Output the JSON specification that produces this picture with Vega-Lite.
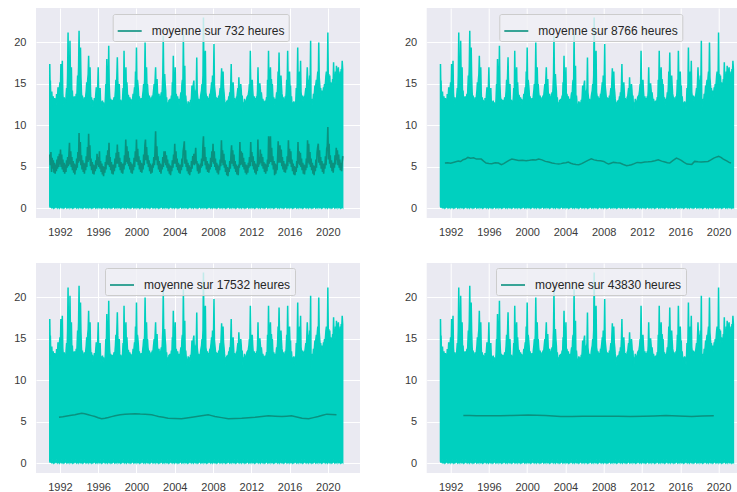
{
"$schema": "https://vega.github.io/schema/vega-lite/v6.json",
"background": "white",
"padding": {"left": 13, "top": 8, "right": 0, "bottom": 0},
"bounds": "flush",
"align": "each",
"columns": 2,
"spacing": {"row": 45, "column": 66.7},
"resolve": {"scale": {"color": "independent"}, "legend": {"color": "independent"}},
"config": {
  "view": {"fill": "#EAEAF2", "stroke": null},
  "axis": {"domain": false, "ticks": false, "grid": true, "gridColor": "#FFFFFF", "gridWidth": 1, "labelFont": "Liberation Sans", "labelFontSize": 11, "labelColor": "#3A3A3A"},
  "legend": {"labelFont": "Liberation Sans", "labelFontSize": 12, "labelColor": "#262626", "symbolType": "stroke", "symbolSize": 576, "symbolStrokeWidth": 1.6, "labelOffset": 9, "padding": 4, "fillColor": "rgba(240,240,245,0.8)", "strokeColor": "#CCCCCC", "cornerRadius": 2}
},
"datasets": {
"raw": [
{"t":1990.94,"h":17.4,"l":0.3},{"t":1990.97,"h":15.2,"l":0.1},
{"t":1991.0,"h":15.4,"l":0.4},{"t":1991.05,"h":13.2,"l":0.1},{"t":1991.1,"h":12.3,"l":0.3},{"t":1991.15,"h":14.1,"l":0.0},{"t":1991.2,"h":13.0,"l":0.5},{"t":1991.25,"h":12.6,"l":0.2},{"t":1991.3,"h":13.5,"l":0.1},{"t":1991.35,"h":12.2,"l":0.4},{"t":1991.4,"h":12.9,"l":0.2},{"t":1991.45,"h":13.3,"l":0.0},{"t":1991.5,"h":12.4,"l":0.3},{"t":1991.55,"h":13.2,"l":0.1},{"t":1991.6,"h":12.5,"l":0.5},{"t":1991.65,"h":13.8,"l":0.2},{"t":1991.7,"h":12.7,"l":0.1},{"t":1991.75,"h":13.4,"l":0.3},{"t":1991.8,"h":14.6,"l":0.0},{"t":1991.85,"h":12.8,"l":0.4},{"t":1991.9,"h":13.9,"l":0.2},{"t":1991.95,"h":14.5,"l":0.1},
{"t":1992.0,"h":15.2,"l":0.4},{"t":1992.05,"h":14.0,"l":0.1},{"t":1992.1,"h":17.4,"l":0.3},{"t":1992.15,"h":14.3,"l":0.0},{"t":1992.2,"h":13.9,"l":0.5},{"t":1992.25,"h":17.8,"l":0.2},{"t":1992.3,"h":13.9,"l":0.1},{"t":1992.35,"h":13.0,"l":0.4},{"t":1992.4,"h":12.5,"l":0.2},{"t":1992.45,"h":13.4,"l":0.0},{"t":1992.5,"h":12.8,"l":0.3},{"t":1992.55,"h":13.2,"l":0.1},{"t":1992.6,"h":12.6,"l":0.5},{"t":1992.65,"h":13.7,"l":0.2},{"t":1992.7,"h":14.5,"l":0.1},{"t":1992.75,"h":13.8,"l":0.3},{"t":1992.8,"h":16.0,"l":0.0},{"t":1992.85,"h":21.2,"l":0.4},{"t":1992.9,"h":15.0,"l":0.2},{"t":1992.95,"h":16.5,"l":0.1},
{"t":1993.0,"h":15.5,"l":0.4},{"t":1993.05,"h":20.2,"l":0.1},{"t":1993.1,"h":16.0,"l":0.3},{"t":1993.15,"h":13.8,"l":0.0},{"t":1993.2,"h":17.0,"l":0.5},{"t":1993.25,"h":13.5,"l":0.2},{"t":1993.3,"h":14.2,"l":0.1},{"t":1993.35,"h":12.8,"l":0.4},{"t":1993.4,"h":13.3,"l":0.2},{"t":1993.45,"h":12.9,"l":0.0},{"t":1993.5,"h":13.5,"l":0.3},{"t":1993.55,"h":12.6,"l":0.1},{"t":1993.6,"h":13.5,"l":0.5},{"t":1993.65,"h":12.9,"l":0.2},{"t":1993.7,"h":13.8,"l":0.1},{"t":1993.75,"h":12.9,"l":0.3},{"t":1993.8,"h":14.5,"l":0.0},{"t":1993.85,"h":16.0,"l":0.4},{"t":1993.9,"h":15.2,"l":0.2},{"t":1993.95,"h":17.1,"l":0.1},
{"t":1994.0,"h":21.4,"l":0.4},{"t":1994.05,"h":16.5,"l":0.1},{"t":1994.1,"h":15.1,"l":0.3},{"t":1994.15,"h":19.4,"l":0.0},{"t":1994.2,"h":15.8,"l":0.5},{"t":1994.25,"h":14.0,"l":0.2},{"t":1994.3,"h":13.0,"l":0.1},{"t":1994.35,"h":13.6,"l":0.4},{"t":1994.4,"h":12.6,"l":0.2},{"t":1994.45,"h":13.2,"l":0.0},{"t":1994.5,"h":12.6,"l":0.3},{"t":1994.55,"h":13.4,"l":0.1},{"t":1994.6,"h":13.1,"l":0.5},{"t":1994.65,"h":12.8,"l":0.2},{"t":1994.7,"h":13.6,"l":0.1},{"t":1994.75,"h":14.2,"l":0.3},{"t":1994.8,"h":15.2,"l":0.0},{"t":1994.85,"h":14.1,"l":0.4},{"t":1994.9,"h":15.5,"l":0.2},{"t":1994.95,"h":16.2,"l":0.1},
{"t":1995.0,"h":18.4,"l":0.4},{"t":1995.05,"h":15.5,"l":0.1},{"t":1995.1,"h":14.3,"l":0.3},{"t":1995.15,"h":17.0,"l":0.0},{"t":1995.2,"h":14.0,"l":0.5},{"t":1995.25,"h":12.5,"l":0.2},{"t":1995.3,"h":13.4,"l":0.1},{"t":1995.35,"h":12.8,"l":0.4},{"t":1995.4,"h":13.1,"l":0.2},{"t":1995.45,"h":12.2,"l":0.0},{"t":1995.5,"h":12.9,"l":0.3},{"t":1995.55,"h":12.4,"l":0.1},{"t":1995.6,"h":13.3,"l":0.5},{"t":1995.65,"h":12.6,"l":0.2},{"t":1995.7,"h":13.0,"l":0.1},{"t":1995.75,"h":13.8,"l":0.3},{"t":1995.8,"h":14.6,"l":0.0},{"t":1995.85,"h":13.5,"l":0.4},{"t":1995.9,"h":13.2,"l":0.2},{"t":1995.95,"h":14.8,"l":0.1},
{"t":1996.0,"h":17.0,"l":0.4},{"t":1996.05,"h":13.8,"l":0.1},{"t":1996.1,"h":14.5,"l":0.3},{"t":1996.15,"h":13.2,"l":0.0},{"t":1996.2,"h":14.5,"l":0.5},{"t":1996.25,"h":12.8,"l":0.2},{"t":1996.3,"h":12.0,"l":0.1},{"t":1996.35,"h":12.9,"l":0.4},{"t":1996.4,"h":12.4,"l":0.2},{"t":1996.45,"h":13.0,"l":0.0},{"t":1996.5,"h":12.4,"l":0.3},{"t":1996.55,"h":12.8,"l":0.1},{"t":1996.6,"h":12.2,"l":0.5},{"t":1996.65,"h":12.6,"l":0.2},{"t":1996.7,"h":12.1,"l":0.1},{"t":1996.75,"h":13.3,"l":0.3},{"t":1996.8,"h":15.0,"l":0.0},{"t":1996.85,"h":14.2,"l":0.4},{"t":1996.9,"h":18.0,"l":0.2},{"t":1996.95,"h":15.2,"l":0.1},
{"t":1997.0,"h":16.0,"l":0.4},{"t":1997.05,"h":14.5,"l":0.1},{"t":1997.1,"h":19.6,"l":0.3},{"t":1997.15,"h":15.0,"l":0.0},{"t":1997.2,"h":13.6,"l":0.5},{"t":1997.25,"h":12.9,"l":0.2},{"t":1997.3,"h":13.2,"l":0.1},{"t":1997.35,"h":12.7,"l":0.4},{"t":1997.4,"h":12.5,"l":0.2},{"t":1997.45,"h":13.1,"l":0.0},{"t":1997.5,"h":12.6,"l":0.3},{"t":1997.55,"h":13.0,"l":0.1},{"t":1997.6,"h":12.8,"l":0.5},{"t":1997.65,"h":13.4,"l":0.2},{"t":1997.7,"h":13.0,"l":0.1},{"t":1997.75,"h":13.4,"l":0.3},{"t":1997.8,"h":14.2,"l":0.0},{"t":1997.85,"h":15.5,"l":0.4},{"t":1997.9,"h":14.3,"l":0.2},{"t":1997.95,"h":16.0,"l":0.1},
{"t":1998.0,"h":18.2,"l":0.4},{"t":1998.05,"h":15.4,"l":0.1},{"t":1998.1,"h":14.2,"l":0.3},{"t":1998.15,"h":14.8,"l":0.0},{"t":1998.2,"h":15.0,"l":0.5},{"t":1998.25,"h":13.2,"l":0.2},{"t":1998.3,"h":12.7,"l":0.1},{"t":1998.35,"h":13.1,"l":0.4},{"t":1998.4,"h":12.4,"l":0.2},{"t":1998.45,"h":12.9,"l":0.0},{"t":1998.5,"h":12.6,"l":0.3},{"t":1998.55,"h":13.3,"l":0.1},{"t":1998.6,"h":14.5,"l":0.5},{"t":1998.65,"h":13.2,"l":0.2},{"t":1998.7,"h":19.0,"l":0.1},{"t":1998.75,"h":15.0,"l":0.3},{"t":1998.8,"h":14.4,"l":0.0},{"t":1998.85,"h":15.8,"l":0.4},{"t":1998.9,"h":17.0,"l":0.2},{"t":1998.95,"h":13.8,"l":0.1},
{"t":1999.0,"h":15.2,"l":0.4},{"t":1999.05,"h":14.0,"l":0.1},{"t":1999.1,"h":13.0,"l":0.3},{"t":1999.15,"h":13.7,"l":0.0},{"t":1999.2,"h":13.3,"l":0.5},{"t":1999.25,"h":12.8,"l":0.2},{"t":1999.3,"h":13.4,"l":0.1},{"t":1999.35,"h":12.9,"l":0.4},{"t":1999.4,"h":13.2,"l":0.2},{"t":1999.45,"h":12.5,"l":0.0},{"t":1999.5,"h":13.1,"l":0.3},{"t":1999.55,"h":12.8,"l":0.1},{"t":1999.6,"h":13.2,"l":0.5},{"t":1999.65,"h":13.8,"l":0.2},{"t":1999.7,"h":13.0,"l":0.1},{"t":1999.75,"h":14.0,"l":0.3},{"t":1999.8,"h":14.6,"l":0.0},{"t":1999.85,"h":14.1,"l":0.4},{"t":1999.9,"h":16.5,"l":0.2},{"t":1999.95,"h":15.0,"l":0.1},
{"t":2000.0,"h":19.4,"l":0.4},{"t":2000.05,"h":14.8,"l":0.1},{"t":2000.1,"h":15.5,"l":0.3},{"t":2000.15,"h":15.0,"l":0.0},{"t":2000.2,"h":14.2,"l":0.5},{"t":2000.25,"h":13.0,"l":0.2},{"t":2000.3,"h":13.5,"l":0.1},{"t":2000.35,"h":12.9,"l":0.4},{"t":2000.4,"h":13.2,"l":0.2},{"t":2000.45,"h":12.6,"l":0.0},{"t":2000.5,"h":13.3,"l":0.3},{"t":2000.55,"h":12.8,"l":0.1},{"t":2000.6,"h":13.0,"l":0.5},{"t":2000.65,"h":13.7,"l":0.2},{"t":2000.7,"h":14.2,"l":0.1},{"t":2000.75,"h":15.0,"l":0.3},{"t":2000.8,"h":14.3,"l":0.0},{"t":2000.85,"h":15.5,"l":0.4},{"t":2000.9,"h":20.0,"l":0.2},{"t":2000.95,"h":16.0,"l":0.1},
{"t":2001.0,"h":15.4,"l":0.4},{"t":2001.05,"h":17.0,"l":0.1},{"t":2001.1,"h":14.6,"l":0.3},{"t":2001.15,"h":15.0,"l":0.0},{"t":2001.2,"h":14.0,"l":0.5},{"t":2001.25,"h":13.5,"l":0.2},{"t":2001.3,"h":13.1,"l":0.1},{"t":2001.35,"h":13.6,"l":0.4},{"t":2001.4,"h":12.8,"l":0.2},{"t":2001.45,"h":13.2,"l":0.0},{"t":2001.5,"h":12.9,"l":0.3},{"t":2001.55,"h":13.4,"l":0.1},{"t":2001.6,"h":13.0,"l":0.5},{"t":2001.65,"h":13.6,"l":0.2},{"t":2001.7,"h":13.2,"l":0.1},{"t":2001.75,"h":13.8,"l":0.3},{"t":2001.8,"h":14.4,"l":0.0},{"t":2001.85,"h":15.0,"l":0.4},{"t":2001.9,"h":14.2,"l":0.2},{"t":2001.95,"h":15.6,"l":0.1},
{"t":2002.0,"h":17.0,"l":0.4},{"t":2002.05,"h":14.5,"l":0.1},{"t":2002.1,"h":15.2,"l":0.3},{"t":2002.15,"h":15.6,"l":0.0},{"t":2002.2,"h":14.0,"l":0.5},{"t":2002.25,"h":13.6,"l":0.2},{"t":2002.3,"h":13.2,"l":0.1},{"t":2002.35,"h":13.8,"l":0.4},{"t":2002.4,"h":13.0,"l":0.2},{"t":2002.45,"h":13.5,"l":0.0},{"t":2002.5,"h":13.0,"l":0.3},{"t":2002.55,"h":13.6,"l":0.1},{"t":2002.6,"h":14.0,"l":0.5},{"t":2002.65,"h":13.4,"l":0.2},{"t":2002.7,"h":14.5,"l":0.1},{"t":2002.75,"h":16.0,"l":0.3},{"t":2002.8,"h":20.8,"l":0.0},{"t":2002.85,"h":15.8,"l":0.4},{"t":2002.9,"h":14.6,"l":0.2},{"t":2002.95,"h":16.2,"l":0.1},
{"t":2003.0,"h":15.0,"l":0.4},{"t":2003.05,"h":14.2,"l":0.1},{"t":2003.1,"h":12.8,"l":0.3},{"t":2003.15,"h":13.4,"l":0.0},{"t":2003.2,"h":12.5,"l":0.5},{"t":2003.25,"h":11.9,"l":0.2},{"t":2003.3,"h":12.8,"l":0.1},{"t":2003.35,"h":12.5,"l":0.4},{"t":2003.4,"h":13.1,"l":0.2},{"t":2003.45,"h":12.6,"l":0.0},{"t":2003.5,"h":13.2,"l":0.3},{"t":2003.55,"h":12.8,"l":0.1},{"t":2003.6,"h":13.0,"l":0.5},{"t":2003.65,"h":13.6,"l":0.2},{"t":2003.7,"h":13.2,"l":0.1},{"t":2003.75,"h":15.2,"l":0.3},{"t":2003.8,"h":14.4,"l":0.0},{"t":2003.85,"h":18.4,"l":0.4},{"t":2003.9,"h":15.0,"l":0.2},{"t":2003.95,"h":15.5,"l":0.1},
{"t":2004.0,"h":14.6,"l":0.4},{"t":2004.05,"h":17.0,"l":0.1},{"t":2004.1,"h":12.8,"l":0.3},{"t":2004.15,"h":13.8,"l":0.0},{"t":2004.2,"h":13.4,"l":0.5},{"t":2004.25,"h":13.0,"l":0.2},{"t":2004.3,"h":13.5,"l":0.1},{"t":2004.35,"h":12.8,"l":0.4},{"t":2004.4,"h":13.2,"l":0.2},{"t":2004.45,"h":12.5,"l":0.0},{"t":2004.5,"h":13.2,"l":0.3},{"t":2004.55,"h":12.9,"l":0.1},{"t":2004.6,"h":13.6,"l":0.5},{"t":2004.65,"h":14.0,"l":0.2},{"t":2004.7,"h":13.5,"l":0.1},{"t":2004.75,"h":15.0,"l":0.3},{"t":2004.8,"h":15.5,"l":0.0},{"t":2004.85,"h":14.6,"l":0.4},{"t":2004.9,"h":21.0,"l":0.2},{"t":2004.95,"h":16.0,"l":0.1},
{"t":2005.0,"h":15.2,"l":0.4},{"t":2005.05,"h":17.2,"l":0.1},{"t":2005.1,"h":12.5,"l":0.3},{"t":2005.15,"h":13.6,"l":0.0},{"t":2005.2,"h":12.8,"l":0.5},{"t":2005.25,"h":11.9,"l":0.2},{"t":2005.3,"h":12.6,"l":0.1},{"t":2005.35,"h":12.2,"l":0.4},{"t":2005.4,"h":12.9,"l":0.2},{"t":2005.45,"h":12.3,"l":0.0},{"t":2005.5,"h":12.2,"l":0.3},{"t":2005.55,"h":12.8,"l":0.1},{"t":2005.6,"h":12.4,"l":0.5},{"t":2005.65,"h":13.1,"l":0.2},{"t":2005.7,"h":12.7,"l":0.1},{"t":2005.75,"h":13.5,"l":0.3},{"t":2005.8,"h":14.8,"l":0.0},{"t":2005.85,"h":14.0,"l":0.4},{"t":2005.9,"h":14.5,"l":0.2},{"t":2005.95,"h":15.0,"l":0.1},
{"t":2006.0,"h":15.4,"l":0.4},{"t":2006.05,"h":13.5,"l":0.1},{"t":2006.1,"h":14.2,"l":0.3},{"t":2006.15,"h":13.5,"l":0.0},{"t":2006.2,"h":14.0,"l":0.5},{"t":2006.25,"h":14.5,"l":0.2},{"t":2006.3,"h":18.2,"l":0.1},{"t":2006.35,"h":14.0,"l":0.4},{"t":2006.4,"h":13.4,"l":0.2},{"t":2006.45,"h":12.9,"l":0.0},{"t":2006.5,"h":13.2,"l":0.3},{"t":2006.55,"h":12.7,"l":0.1},{"t":2006.6,"h":13.1,"l":0.5},{"t":2006.65,"h":12.8,"l":0.2},{"t":2006.7,"h":13.5,"l":0.1},{"t":2006.75,"h":13.9,"l":0.3},{"t":2006.8,"h":14.2,"l":0.0},{"t":2006.85,"h":15.0,"l":0.4},{"t":2006.9,"h":14.6,"l":0.2},{"t":2006.95,"h":16.0,"l":0.1},
{"t":2007.0,"h":23.0,"l":0.4},{"t":2007.05,"h":16.5,"l":0.1},{"t":2007.1,"h":15.6,"l":0.3},{"t":2007.15,"h":18.0,"l":0.0},{"t":2007.2,"h":19.0,"l":0.5},{"t":2007.25,"h":14.0,"l":0.2},{"t":2007.3,"h":13.6,"l":0.1},{"t":2007.35,"h":13.2,"l":0.4},{"t":2007.4,"h":13.5,"l":0.2},{"t":2007.45,"h":12.9,"l":0.0},{"t":2007.5,"h":13.3,"l":0.3},{"t":2007.55,"h":12.8,"l":0.1},{"t":2007.6,"h":13.2,"l":0.5},{"t":2007.65,"h":13.6,"l":0.2},{"t":2007.7,"h":13.5,"l":0.1},{"t":2007.75,"h":14.0,"l":0.3},{"t":2007.8,"h":14.5,"l":0.0},{"t":2007.85,"h":15.2,"l":0.4},{"t":2007.9,"h":14.6,"l":0.2},{"t":2007.95,"h":16.0,"l":0.1},
{"t":2008.0,"h":15.2,"l":0.4},{"t":2008.05,"h":15.6,"l":0.1},{"t":2008.1,"h":19.8,"l":0.3},{"t":2008.15,"h":14.8,"l":0.0},{"t":2008.2,"h":14.2,"l":0.5},{"t":2008.25,"h":13.6,"l":0.2},{"t":2008.3,"h":13.0,"l":0.1},{"t":2008.35,"h":13.4,"l":0.4},{"t":2008.4,"h":12.8,"l":0.2},{"t":2008.45,"h":13.3,"l":0.0},{"t":2008.5,"h":12.8,"l":0.3},{"t":2008.55,"h":13.2,"l":0.1},{"t":2008.6,"h":13.6,"l":0.5},{"t":2008.65,"h":13.2,"l":0.2},{"t":2008.7,"h":14.0,"l":0.1},{"t":2008.75,"h":14.5,"l":0.3},{"t":2008.8,"h":13.9,"l":0.0},{"t":2008.85,"h":15.4,"l":0.4},{"t":2008.9,"h":16.9,"l":0.2},{"t":2008.95,"h":14.5,"l":0.1},
{"t":2009.0,"h":15.0,"l":0.4},{"t":2009.05,"h":16.5,"l":0.1},{"t":2009.1,"h":14.6,"l":0.3},{"t":2009.15,"h":14.0,"l":0.0},{"t":2009.2,"h":13.2,"l":0.5},{"t":2009.25,"h":12.6,"l":0.2},{"t":2009.3,"h":11.9,"l":0.1},{"t":2009.35,"h":12.8,"l":0.4},{"t":2009.4,"h":12.5,"l":0.2},{"t":2009.45,"h":13.0,"l":0.0},{"t":2009.5,"h":12.6,"l":0.3},{"t":2009.55,"h":13.0,"l":0.1},{"t":2009.6,"h":13.0,"l":0.5},{"t":2009.65,"h":13.5,"l":0.2},{"t":2009.7,"h":13.2,"l":0.1},{"t":2009.75,"h":14.0,"l":0.3},{"t":2009.8,"h":13.6,"l":0.0},{"t":2009.85,"h":15.0,"l":0.4},{"t":2009.9,"h":17.4,"l":0.2},{"t":2009.95,"h":14.0,"l":0.1},
{"t":2010.0,"h":14.8,"l":0.4},{"t":2010.05,"h":14.2,"l":0.1},{"t":2010.1,"h":15.2,"l":0.3},{"t":2010.15,"h":14.0,"l":0.0},{"t":2010.2,"h":12.8,"l":0.5},{"t":2010.25,"h":13.3,"l":0.2},{"t":2010.3,"h":12.6,"l":0.1},{"t":2010.35,"h":13.0,"l":0.4},{"t":2010.4,"h":12.9,"l":0.2},{"t":2010.45,"h":13.4,"l":0.0},{"t":2010.5,"h":13.4,"l":0.3},{"t":2010.55,"h":14.0,"l":0.1},{"t":2010.6,"h":14.5,"l":0.5},{"t":2010.65,"h":13.8,"l":0.2},{"t":2010.7,"h":15.8,"l":0.1},{"t":2010.75,"h":14.2,"l":0.3},{"t":2010.8,"h":14.6,"l":0.0},{"t":2010.85,"h":13.8,"l":0.4},{"t":2010.9,"h":15.0,"l":0.2},{"t":2010.95,"h":14.2,"l":0.1},
{"t":2011.0,"h":13.0,"l":0.4},{"t":2011.05,"h":13.6,"l":0.1},{"t":2011.1,"h":12.4,"l":0.3},{"t":2011.15,"h":11.5,"l":0.0},{"t":2011.2,"h":12.8,"l":0.5},{"t":2011.25,"h":12.5,"l":0.2},{"t":2011.3,"h":13.2,"l":0.1},{"t":2011.35,"h":12.7,"l":0.4},{"t":2011.4,"h":13.0,"l":0.2},{"t":2011.45,"h":12.6,"l":0.0},{"t":2011.5,"h":13.0,"l":0.3},{"t":2011.55,"h":13.4,"l":0.1},{"t":2011.6,"h":13.5,"l":0.5},{"t":2011.65,"h":13.0,"l":0.2},{"t":2011.7,"h":13.8,"l":0.1},{"t":2011.75,"h":14.2,"l":0.3},{"t":2011.8,"h":15.0,"l":0.0},{"t":2011.85,"h":14.5,"l":0.4},{"t":2011.9,"h":19.0,"l":0.2},{"t":2011.95,"h":14.8,"l":0.1},
{"t":2012.0,"h":14.6,"l":0.4},{"t":2012.05,"h":15.2,"l":0.1},{"t":2012.1,"h":15.5,"l":0.3},{"t":2012.15,"h":14.2,"l":0.0},{"t":2012.2,"h":13.4,"l":0.5},{"t":2012.25,"h":13.0,"l":0.2},{"t":2012.3,"h":13.5,"l":0.1},{"t":2012.35,"h":12.8,"l":0.4},{"t":2012.4,"h":12.8,"l":0.2},{"t":2012.45,"h":13.3,"l":0.0},{"t":2012.5,"h":13.0,"l":0.3},{"t":2012.55,"h":13.5,"l":0.1},{"t":2012.6,"h":13.2,"l":0.5},{"t":2012.65,"h":14.2,"l":0.2},{"t":2012.7,"h":17.0,"l":0.1},{"t":2012.75,"h":14.2,"l":0.3},{"t":2012.8,"h":14.6,"l":0.0},{"t":2012.85,"h":15.0,"l":0.4},{"t":2012.9,"h":15.0,"l":0.2},{"t":2012.95,"h":14.3,"l":0.1},
{"t":2013.0,"h":13.2,"l":0.4},{"t":2013.05,"h":14.0,"l":0.1},{"t":2013.1,"h":13.4,"l":0.3},{"t":2013.15,"h":12.7,"l":0.0},{"t":2013.2,"h":13.2,"l":0.5},{"t":2013.25,"h":12.9,"l":0.2},{"t":2013.3,"h":12.3,"l":0.1},{"t":2013.35,"h":12.9,"l":0.4},{"t":2013.4,"h":12.6,"l":0.2},{"t":2013.45,"h":13.0,"l":0.0},{"t":2013.5,"h":12.7,"l":0.3},{"t":2013.55,"h":13.0,"l":0.1},{"t":2013.6,"h":13.4,"l":0.5},{"t":2013.65,"h":13.0,"l":0.2},{"t":2013.7,"h":15.5,"l":0.1},{"t":2013.75,"h":14.2,"l":0.3},{"t":2013.8,"h":19.0,"l":0.0},{"t":2013.85,"h":14.5,"l":0.4},{"t":2013.9,"h":15.2,"l":0.2},{"t":2013.95,"h":16.0,"l":0.1},
{"t":2014.0,"h":17.0,"l":0.4},{"t":2014.05,"h":14.5,"l":0.1},{"t":2014.1,"h":15.6,"l":0.3},{"t":2014.15,"h":14.6,"l":0.0},{"t":2014.2,"h":15.0,"l":0.5},{"t":2014.25,"h":13.6,"l":0.2},{"t":2014.3,"h":13.0,"l":0.1},{"t":2014.35,"h":13.4,"l":0.4},{"t":2014.4,"h":12.8,"l":0.2},{"t":2014.45,"h":12.5,"l":0.0},{"t":2014.5,"h":13.2,"l":0.3},{"t":2014.55,"h":12.8,"l":0.1},{"t":2014.6,"h":13.4,"l":0.5},{"t":2014.65,"h":14.0,"l":0.2},{"t":2014.7,"h":13.6,"l":0.1},{"t":2014.75,"h":14.6,"l":0.3},{"t":2014.8,"h":16.5,"l":0.0},{"t":2014.85,"h":15.2,"l":0.4},{"t":2014.9,"h":18.8,"l":0.2},{"t":2014.95,"h":15.5,"l":0.1},
{"t":2015.0,"h":15.0,"l":0.4},{"t":2015.05,"h":14.6,"l":0.1},{"t":2015.1,"h":16.0,"l":0.3},{"t":2015.15,"h":14.8,"l":0.0},{"t":2015.2,"h":13.8,"l":0.5},{"t":2015.25,"h":13.5,"l":0.2},{"t":2015.3,"h":13.0,"l":0.1},{"t":2015.35,"h":13.4,"l":0.4},{"t":2015.4,"h":12.8,"l":0.2},{"t":2015.45,"h":13.2,"l":0.0},{"t":2015.5,"h":12.8,"l":0.3},{"t":2015.55,"h":13.5,"l":0.1},{"t":2015.6,"h":13.2,"l":0.5},{"t":2015.65,"h":14.0,"l":0.2},{"t":2015.7,"h":15.5,"l":0.1},{"t":2015.75,"h":14.6,"l":0.3},{"t":2015.8,"h":19.0,"l":0.0},{"t":2015.85,"h":15.5,"l":0.4},{"t":2015.9,"h":14.6,"l":0.2},{"t":2015.95,"h":15.4,"l":0.1},
{"t":2016.0,"h":16.5,"l":0.4},{"t":2016.05,"h":14.4,"l":0.1},{"t":2016.1,"h":14.8,"l":0.3},{"t":2016.15,"h":12.8,"l":0.0},{"t":2016.2,"h":13.5,"l":0.5},{"t":2016.25,"h":12.6,"l":0.2},{"t":2016.3,"h":12.0,"l":0.1},{"t":2016.35,"h":12.8,"l":0.4},{"t":2016.4,"h":12.4,"l":0.2},{"t":2016.45,"h":12.9,"l":0.0},{"t":2016.5,"h":12.4,"l":0.3},{"t":2016.55,"h":12.8,"l":0.1},{"t":2016.6,"h":11.9,"l":0.5},{"t":2016.65,"h":12.9,"l":0.2},{"t":2016.7,"h":14.5,"l":0.1},{"t":2016.75,"h":13.6,"l":0.3},{"t":2016.8,"h":15.0,"l":0.0},{"t":2016.85,"h":19.4,"l":0.4},{"t":2016.9,"h":15.0,"l":0.2},{"t":2016.95,"h":14.6,"l":0.1},
{"t":2017.0,"h":15.6,"l":0.4},{"t":2017.05,"h":16.5,"l":0.1},{"t":2017.1,"h":14.8,"l":0.3},{"t":2017.15,"h":17.8,"l":0.0},{"t":2017.2,"h":14.0,"l":0.5},{"t":2017.25,"h":13.5,"l":0.2},{"t":2017.3,"h":13.2,"l":0.1},{"t":2017.35,"h":13.6,"l":0.4},{"t":2017.4,"h":13.0,"l":0.2},{"t":2017.45,"h":13.4,"l":0.0},{"t":2017.5,"h":13.0,"l":0.3},{"t":2017.55,"h":13.5,"l":0.1},{"t":2017.6,"h":13.5,"l":0.5},{"t":2017.65,"h":14.0,"l":0.2},{"t":2017.7,"h":14.5,"l":0.1},{"t":2017.75,"h":14.0,"l":0.3},{"t":2017.8,"h":15.2,"l":0.0},{"t":2017.85,"h":17.0,"l":0.4},{"t":2017.9,"h":15.4,"l":0.2},{"t":2017.95,"h":15.0,"l":0.1},
{"t":2018.0,"h":15.5,"l":0.4},{"t":2018.05,"h":14.8,"l":0.1},{"t":2018.1,"h":16.0,"l":0.3},{"t":2018.15,"h":15.2,"l":0.0},{"t":2018.2,"h":20.2,"l":0.5},{"t":2018.25,"h":11.5,"l":0.2},{"t":2018.3,"h":13.0,"l":0.1},{"t":2018.35,"h":12.5,"l":0.4},{"t":2018.4,"h":13.2,"l":0.2},{"t":2018.45,"h":13.0,"l":0.0},{"t":2018.5,"h":13.8,"l":0.3},{"t":2018.55,"h":13.5,"l":0.1},{"t":2018.6,"h":14.0,"l":0.5},{"t":2018.65,"h":14.8,"l":0.2},{"t":2018.7,"h":14.5,"l":0.1},{"t":2018.75,"h":15.0,"l":0.3},{"t":2018.8,"h":15.5,"l":0.0},{"t":2018.85,"h":14.8,"l":0.4},{"t":2018.9,"h":15.8,"l":0.2},{"t":2018.95,"h":16.5,"l":0.1},
{"t":2019.0,"h":15.2,"l":0.4},{"t":2019.05,"h":20.0,"l":0.1},{"t":2019.1,"h":15.8,"l":0.3},{"t":2019.15,"h":15.0,"l":0.0},{"t":2019.2,"h":14.2,"l":0.5},{"t":2019.25,"h":14.5,"l":0.2},{"t":2019.3,"h":13.8,"l":0.1},{"t":2019.35,"h":14.2,"l":0.4},{"t":2019.4,"h":13.2,"l":0.2},{"t":2019.45,"h":13.8,"l":0.0},{"t":2019.5,"h":14.0,"l":0.3},{"t":2019.55,"h":14.6,"l":0.1},{"t":2019.6,"h":14.2,"l":0.5},{"t":2019.65,"h":15.0,"l":0.2},{"t":2019.7,"h":14.5,"l":0.1},{"t":2019.75,"h":15.2,"l":0.3},{"t":2019.8,"h":16.0,"l":0.0},{"t":2019.85,"h":16.5,"l":0.4},{"t":2019.9,"h":15.0,"l":0.2},{"t":2019.95,"h":15.5,"l":0.1},
{"t":2020.0,"h":21.2,"l":0.4},{"t":2020.05,"h":15.5,"l":0.1},{"t":2020.1,"h":16.2,"l":0.3},{"t":2020.15,"h":15.0,"l":0.0},{"t":2020.2,"h":16.0,"l":0.5},{"t":2020.25,"h":14.5,"l":0.2},{"t":2020.3,"h":15.2,"l":0.1},{"t":2020.35,"h":14.5,"l":0.4},{"t":2020.4,"h":15.0,"l":0.2},{"t":2020.45,"h":14.8,"l":0.0},{"t":2020.5,"h":15.6,"l":0.3},{"t":2020.55,"h":15.0,"l":0.1},{"t":2020.6,"h":17.6,"l":0.5},{"t":2020.65,"h":15.2,"l":0.2},{"t":2020.7,"h":15.8,"l":0.1},{"t":2020.75,"h":15.0,"l":0.3},{"t":2020.8,"h":16.5,"l":0.0},{"t":2020.85,"h":15.6,"l":0.4},{"t":2020.9,"h":17.2,"l":0.2},{"t":2020.95,"h":16.0,"l":0.1},
{"t":2021.0,"h":16.0,"l":0.4},{"t":2021.05,"h":16.6,"l":0.1},{"t":2021.1,"h":17.0,"l":0.3},{"t":2021.15,"h":15.5,"l":0.0},{"t":2021.2,"h":16.2,"l":0.5},{"t":2021.25,"h":15.5,"l":0.2},{"t":2021.3,"h":16.5,"l":0.1},{"t":2021.35,"h":15.8,"l":0.4},{"t":2021.4,"h":16.8,"l":0.2},{"t":2021.45,"h":16.2,"l":0.0},{"t":2021.5,"h":17.8,"l":0.3},{"t":2021.55,"h":16.8,"l":0.2}
],
"m732": [
{"t":1990.94,"v":6.5},
{"t":1991.0,"v":5.2},{"t":1991.06,"v":6.8},{"t":1991.13,"v":4.4},{"t":1991.19,"v":6.1},{"t":1991.25,"v":4.8},{"t":1991.31,"v":5.8},{"t":1991.38,"v":4.3},{"t":1991.44,"v":5.5},{"t":1991.5,"v":4.2},{"t":1991.56,"v":5.3},{"t":1991.63,"v":4.5},{"t":1991.69,"v":5.9},{"t":1991.75,"v":4.8},{"t":1991.81,"v":6.3},{"t":1991.88,"v":5.0},{"t":1991.94,"v":6.6},
{"t":1992.0,"v":5.3},{"t":1992.06,"v":7.1},{"t":1992.13,"v":5.0},{"t":1992.19,"v":6.5},{"t":1992.25,"v":4.7},{"t":1992.31,"v":5.9},{"t":1992.38,"v":4.4},{"t":1992.44,"v":5.5},{"t":1992.5,"v":4.2},{"t":1992.56,"v":5.3},{"t":1992.63,"v":4.4},{"t":1992.69,"v":5.8},{"t":1992.75,"v":4.9},{"t":1992.81,"v":6.2},{"t":1992.88,"v":5.1},{"t":1992.94,"v":6.5},
{"t":1993.0,"v":7.9},{"t":1993.06,"v":5.3},{"t":1993.13,"v":6.9},{"t":1993.19,"v":5.0},{"t":1993.25,"v":6.2},{"t":1993.31,"v":4.6},{"t":1993.38,"v":5.7},{"t":1993.44,"v":4.3},{"t":1993.5,"v":5.4},{"t":1993.56,"v":4.1},{"t":1993.63,"v":5.3},{"t":1993.69,"v":4.6},{"t":1993.75,"v":6.0},{"t":1993.81,"v":4.9},{"t":1993.88,"v":6.8},{"t":1993.94,"v":5.5},
{"t":1994.0,"v":9.1},{"t":1994.06,"v":5.7},{"t":1994.13,"v":8.0},{"t":1994.19,"v":5.2},{"t":1994.25,"v":6.4},{"t":1994.31,"v":4.7},{"t":1994.38,"v":5.8},{"t":1994.44,"v":4.4},{"t":1994.5,"v":5.5},{"t":1994.56,"v":4.2},{"t":1994.63,"v":5.4},{"t":1994.69,"v":4.6},{"t":1994.75,"v":6.3},{"t":1994.81,"v":5.0},{"t":1994.88,"v":7.4},{"t":1994.94,"v":5.6},
{"t":1995.0,"v":9.0},{"t":1995.06,"v":5.8},{"t":1995.13,"v":7.6},{"t":1995.19,"v":5.1},{"t":1995.25,"v":6.0},{"t":1995.31,"v":4.6},{"t":1995.38,"v":5.6},{"t":1995.44,"v":4.2},{"t":1995.5,"v":5.3},{"t":1995.56,"v":4.1},{"t":1995.63,"v":5.2},{"t":1995.69,"v":4.5},{"t":1995.75,"v":5.8},{"t":1995.81,"v":4.8},{"t":1995.88,"v":6.6},{"t":1995.94,"v":5.2},
{"t":1996.0,"v":6.2},{"t":1996.06,"v":5.0},{"t":1996.13,"v":6.9},{"t":1996.19,"v":4.8},{"t":1996.25,"v":5.7},{"t":1996.31,"v":4.4},{"t":1996.38,"v":5.4},{"t":1996.44,"v":4.1},{"t":1996.5,"v":5.1},{"t":1996.56,"v":3.9},{"t":1996.63,"v":5.0},{"t":1996.69,"v":4.3},{"t":1996.75,"v":5.6},{"t":1996.81,"v":4.7},{"t":1996.88,"v":6.4},{"t":1996.94,"v":5.3},
{"t":1997.0,"v":7.0},{"t":1997.06,"v":5.2},{"t":1997.13,"v":7.9},{"t":1997.19,"v":5.0},{"t":1997.25,"v":6.2},{"t":1997.31,"v":4.6},{"t":1997.38,"v":5.6},{"t":1997.44,"v":4.2},{"t":1997.5,"v":5.3},{"t":1997.56,"v":4.1},{"t":1997.63,"v":5.3},{"t":1997.69,"v":4.5},{"t":1997.75,"v":6.0},{"t":1997.81,"v":4.9},{"t":1997.88,"v":6.7},{"t":1997.94,"v":5.4},
{"t":1998.0,"v":7.7},{"t":1998.06,"v":5.4},{"t":1998.13,"v":6.8},{"t":1998.19,"v":5.0},{"t":1998.25,"v":6.1},{"t":1998.31,"v":4.6},{"t":1998.38,"v":5.6},{"t":1998.44,"v":4.3},{"t":1998.5,"v":5.4},{"t":1998.56,"v":4.2},{"t":1998.63,"v":5.4},{"t":1998.69,"v":4.7},{"t":1998.75,"v":6.4},{"t":1998.81,"v":5.2},{"t":1998.88,"v":8.3},{"t":1998.94,"v":5.6},
{"t":1999.0,"v":7.5},{"t":1999.06,"v":5.4},{"t":1999.13,"v":6.9},{"t":1999.19,"v":5.1},{"t":1999.25,"v":6.1},{"t":1999.31,"v":4.7},{"t":1999.38,"v":5.6},{"t":1999.44,"v":4.3},{"t":1999.5,"v":5.4},{"t":1999.56,"v":4.2},{"t":1999.63,"v":5.3},{"t":1999.69,"v":4.6},{"t":1999.75,"v":6.1},{"t":1999.81,"v":5.0},{"t":1999.88,"v":6.9},{"t":1999.94,"v":5.7},
{"t":2000.0,"v":8.3},{"t":2000.06,"v":5.6},{"t":2000.13,"v":7.2},{"t":2000.19,"v":5.2},{"t":2000.25,"v":6.3},{"t":2000.31,"v":4.7},{"t":2000.38,"v":5.8},{"t":2000.44,"v":4.4},{"t":2000.5,"v":5.5},{"t":2000.56,"v":4.3},{"t":2000.63,"v":5.4},{"t":2000.69,"v":4.7},{"t":2000.75,"v":6.5},{"t":2000.81,"v":5.2},{"t":2000.88,"v":7.6},{"t":2000.94,"v":8.3},
{"t":2001.0,"v":5.8},{"t":2001.06,"v":7.4},{"t":2001.13,"v":5.4},{"t":2001.19,"v":6.4},{"t":2001.25,"v":5.0},{"t":2001.31,"v":5.8},{"t":2001.38,"v":4.5},{"t":2001.44,"v":5.4},{"t":2001.5,"v":4.2},{"t":2001.56,"v":5.2},{"t":2001.63,"v":4.3},{"t":2001.69,"v":5.4},{"t":2001.75,"v":4.9},{"t":2001.81,"v":6.2},{"t":2001.88,"v":5.2},{"t":2001.94,"v":7.0},
{"t":2002.0,"v":9.3},{"t":2002.06,"v":5.8},{"t":2002.13,"v":7.5},{"t":2002.19,"v":5.2},{"t":2002.25,"v":6.3},{"t":2002.31,"v":4.7},{"t":2002.38,"v":5.7},{"t":2002.44,"v":4.4},{"t":2002.5,"v":5.4},{"t":2002.56,"v":4.2},{"t":2002.63,"v":5.3},{"t":2002.69,"v":4.7},{"t":2002.75,"v":6.2},{"t":2002.81,"v":5.0},{"t":2002.88,"v":6.9},{"t":2002.94,"v":5.5},
{"t":2003.0,"v":6.9},{"t":2003.06,"v":5.2},{"t":2003.13,"v":6.4},{"t":2003.19,"v":4.9},{"t":2003.25,"v":5.9},{"t":2003.31,"v":4.5},{"t":2003.38,"v":5.4},{"t":2003.44,"v":4.2},{"t":2003.5,"v":5.2},{"t":2003.56,"v":4.0},{"t":2003.63,"v":5.1},{"t":2003.69,"v":4.5},{"t":2003.75,"v":5.8},{"t":2003.81,"v":4.9},{"t":2003.88,"v":6.5},{"t":2003.94,"v":5.4},
{"t":2004.0,"v":7.8},{"t":2004.06,"v":5.4},{"t":2004.13,"v":6.9},{"t":2004.19,"v":5.0},{"t":2004.25,"v":6.0},{"t":2004.31,"v":4.6},{"t":2004.38,"v":5.5},{"t":2004.44,"v":4.3},{"t":2004.5,"v":5.3},{"t":2004.56,"v":4.2},{"t":2004.63,"v":5.3},{"t":2004.69,"v":4.6},{"t":2004.75,"v":6.0},{"t":2004.81,"v":5.0},{"t":2004.88,"v":6.9},{"t":2004.94,"v":7.4},
{"t":2005.0,"v":8.1},{"t":2005.06,"v":5.4},{"t":2005.13,"v":7.0},{"t":2005.19,"v":5.0},{"t":2005.25,"v":5.9},{"t":2005.31,"v":4.5},{"t":2005.38,"v":5.5},{"t":2005.44,"v":4.2},{"t":2005.5,"v":5.2},{"t":2005.56,"v":4.0},{"t":2005.63,"v":5.0},{"t":2005.69,"v":4.4},{"t":2005.75,"v":5.7},{"t":2005.81,"v":4.8},{"t":2005.88,"v":6.3},{"t":2005.94,"v":5.3},
{"t":2006.0,"v":6.6},{"t":2006.06,"v":5.2},{"t":2006.13,"v":6.2},{"t":2006.19,"v":7.3},{"t":2006.25,"v":5.4},{"t":2006.31,"v":5.7},{"t":2006.38,"v":4.5},{"t":2006.44,"v":5.4},{"t":2006.5,"v":4.2},{"t":2006.56,"v":5.2},{"t":2006.63,"v":4.3},{"t":2006.69,"v":5.4},{"t":2006.75,"v":4.9},{"t":2006.81,"v":6.0},{"t":2006.88,"v":5.1},{"t":2006.94,"v":7.5},
{"t":2007.0,"v":8.7},{"t":2007.06,"v":5.7},{"t":2007.13,"v":7.4},{"t":2007.19,"v":5.2},{"t":2007.25,"v":6.2},{"t":2007.31,"v":4.7},{"t":2007.38,"v":5.7},{"t":2007.44,"v":4.4},{"t":2007.5,"v":5.4},{"t":2007.56,"v":4.3},{"t":2007.63,"v":5.3},{"t":2007.69,"v":4.7},{"t":2007.75,"v":6.1},{"t":2007.81,"v":5.0},{"t":2007.88,"v":6.9},{"t":2007.94,"v":5.6},
{"t":2008.0,"v":7.8},{"t":2008.06,"v":5.4},{"t":2008.13,"v":6.9},{"t":2008.19,"v":5.0},{"t":2008.25,"v":6.0},{"t":2008.31,"v":4.6},{"t":2008.38,"v":5.5},{"t":2008.44,"v":4.3},{"t":2008.5,"v":5.3},{"t":2008.56,"v":4.1},{"t":2008.63,"v":5.1},{"t":2008.69,"v":4.6},{"t":2008.75,"v":5.9},{"t":2008.81,"v":5.1},{"t":2008.88,"v":8.2},{"t":2008.94,"v":5.5},
{"t":2009.0,"v":7.0},{"t":2009.06,"v":5.2},{"t":2009.13,"v":6.6},{"t":2009.19,"v":4.9},{"t":2009.25,"v":5.8},{"t":2009.31,"v":4.4},{"t":2009.38,"v":5.3},{"t":2009.44,"v":4.0},{"t":2009.5,"v":5.0},{"t":2009.56,"v":3.9},{"t":2009.63,"v":4.9},{"t":2009.69,"v":4.4},{"t":2009.75,"v":5.7},{"t":2009.81,"v":4.8},{"t":2009.88,"v":6.6},{"t":2009.94,"v":7.6},
{"t":2010.0,"v":5.4},{"t":2010.06,"v":7.0},{"t":2010.13,"v":5.1},{"t":2010.19,"v":6.5},{"t":2010.25,"v":4.8},{"t":2010.31,"v":5.7},{"t":2010.38,"v":4.4},{"t":2010.44,"v":5.3},{"t":2010.5,"v":4.1},{"t":2010.56,"v":5.1},{"t":2010.63,"v":4.0},{"t":2010.69,"v":5.3},{"t":2010.75,"v":4.9},{"t":2010.81,"v":8.0},{"t":2010.88,"v":5.2},{"t":2010.94,"v":6.9},
{"t":2011.0,"v":5.3},{"t":2011.06,"v":6.7},{"t":2011.13,"v":5.0},{"t":2011.19,"v":6.1},{"t":2011.25,"v":4.7},{"t":2011.31,"v":5.6},{"t":2011.38,"v":4.3},{"t":2011.44,"v":5.3},{"t":2011.5,"v":4.1},{"t":2011.56,"v":5.2},{"t":2011.63,"v":4.3},{"t":2011.69,"v":5.5},{"t":2011.75,"v":4.9},{"t":2011.81,"v":6.2},{"t":2011.88,"v":5.1},{"t":2011.94,"v":8.0},
{"t":2012.0,"v":5.6},{"t":2012.06,"v":6.8},{"t":2012.13,"v":5.1},{"t":2012.19,"v":6.3},{"t":2012.25,"v":4.7},{"t":2012.31,"v":5.7},{"t":2012.38,"v":4.3},{"t":2012.44,"v":5.4},{"t":2012.5,"v":4.1},{"t":2012.56,"v":5.3},{"t":2012.63,"v":4.5},{"t":2012.69,"v":8.3},{"t":2012.75,"v":5.0},{"t":2012.81,"v":6.2},{"t":2012.88,"v":5.3},{"t":2012.94,"v":7.1},
{"t":2013.0,"v":5.5},{"t":2013.06,"v":6.6},{"t":2013.13,"v":5.1},{"t":2013.19,"v":6.2},{"t":2013.25,"v":4.8},{"t":2013.31,"v":5.6},{"t":2013.38,"v":4.4},{"t":2013.44,"v":5.4},{"t":2013.5,"v":4.2},{"t":2013.56,"v":5.3},{"t":2013.63,"v":4.5},{"t":2013.69,"v":5.9},{"t":2013.75,"v":5.0},{"t":2013.81,"v":8.7},{"t":2013.88,"v":5.4},{"t":2013.94,"v":7.0},
{"t":2014.0,"v":8.7},{"t":2014.06,"v":5.6},{"t":2014.13,"v":7.3},{"t":2014.19,"v":5.2},{"t":2014.25,"v":6.3},{"t":2014.31,"v":4.7},{"t":2014.38,"v":5.7},{"t":2014.44,"v":4.0},{"t":2014.5,"v":5.4},{"t":2014.56,"v":4.2},{"t":2014.63,"v":5.3},{"t":2014.69,"v":4.6},{"t":2014.75,"v":6.1},{"t":2014.81,"v":8.1},{"t":2014.88,"v":5.5},{"t":2014.94,"v":7.2},
{"t":2015.0,"v":7.6},{"t":2015.06,"v":5.5},{"t":2015.13,"v":7.1},{"t":2015.19,"v":5.1},{"t":2015.25,"v":6.2},{"t":2015.31,"v":4.7},{"t":2015.38,"v":5.7},{"t":2015.44,"v":4.4},{"t":2015.5,"v":5.4},{"t":2015.56,"v":4.3},{"t":2015.63,"v":5.3},{"t":2015.69,"v":4.7},{"t":2015.75,"v":6.3},{"t":2015.81,"v":5.1},{"t":2015.88,"v":8.2},{"t":2015.94,"v":5.6},
{"t":2016.0,"v":7.2},{"t":2016.06,"v":5.4},{"t":2016.13,"v":6.9},{"t":2016.19,"v":5.0},{"t":2016.25,"v":5.9},{"t":2016.31,"v":4.5},{"t":2016.38,"v":5.4},{"t":2016.44,"v":4.1},{"t":2016.5,"v":5.1},{"t":2016.56,"v":4.0},{"t":2016.63,"v":5.0},{"t":2016.69,"v":4.4},{"t":2016.75,"v":5.7},{"t":2016.81,"v":4.9},{"t":2016.88,"v":8.0},{"t":2016.94,"v":5.4},
{"t":2017.0,"v":6.9},{"t":2017.06,"v":5.2},{"t":2017.13,"v":6.7},{"t":2017.19,"v":5.0},{"t":2017.25,"v":6.0},{"t":2017.31,"v":4.6},{"t":2017.38,"v":5.5},{"t":2017.44,"v":4.2},{"t":2017.5,"v":5.3},{"t":2017.56,"v":4.1},{"t":2017.63,"v":5.2},{"t":2017.69,"v":4.6},{"t":2017.75,"v":6.0},{"t":2017.81,"v":4.9},{"t":2017.88,"v":8.2},{"t":2017.94,"v":5.5},
{"t":2018.0,"v":7.8},{"t":2018.06,"v":5.3},{"t":2018.13,"v":6.8},{"t":2018.19,"v":5.0},{"t":2018.25,"v":6.0},{"t":2018.31,"v":4.6},{"t":2018.38,"v":5.5},{"t":2018.44,"v":4.2},{"t":2018.5,"v":5.2},{"t":2018.56,"v":4.0},{"t":2018.63,"v":5.1},{"t":2018.69,"v":4.5},{"t":2018.75,"v":5.9},{"t":2018.81,"v":4.9},{"t":2018.88,"v":6.8},{"t":2018.94,"v":7.4},
{"t":2019.0,"v":7.8},{"t":2019.06,"v":5.5},{"t":2019.13,"v":7.0},{"t":2019.19,"v":5.2},{"t":2019.25,"v":6.2},{"t":2019.31,"v":4.8},{"t":2019.38,"v":5.7},{"t":2019.44,"v":4.4},{"t":2019.5,"v":5.4},{"t":2019.56,"v":4.2},{"t":2019.63,"v":5.4},{"t":2019.69,"v":4.8},{"t":2019.75,"v":6.3},{"t":2019.81,"v":5.2},{"t":2019.88,"v":7.2},{"t":2019.94,"v":7.5},
{"t":2020.0,"v":9.8},{"t":2020.06,"v":5.9},{"t":2020.13,"v":7.8},{"t":2020.19,"v":5.4},{"t":2020.25,"v":6.4},{"t":2020.31,"v":4.9},{"t":2020.38,"v":5.8},{"t":2020.44,"v":4.5},{"t":2020.5,"v":5.5},{"t":2020.56,"v":4.3},{"t":2020.63,"v":5.5},{"t":2020.69,"v":4.9},{"t":2020.75,"v":6.4},{"t":2020.81,"v":5.3},{"t":2020.88,"v":7.3},{"t":2020.94,"v":5.8},
{"t":2021.0,"v":7.0},{"t":2021.06,"v":5.2},{"t":2021.13,"v":6.5},{"t":2021.19,"v":4.9},{"t":2021.25,"v":5.9},{"t":2021.31,"v":4.6},{"t":2021.38,"v":5.5},{"t":2021.44,"v":4.5},{"t":2021.5,"v":5.6},{"t":2021.56,"v":6.3}
],
"m8766": [
{"t":1991.4,"v":5.47},{"t":1991.7,"v":5.5},{"t":1992.0,"v":5.45},{"t":1992.45,"v":5.59},{"t":1992.8,"v":5.7},{"t":1993.05,"v":5.65},{"t":1993.3,"v":5.87},{"t":1993.55,"v":5.95},{"t":1993.8,"v":6.15},{"t":1994.1,"v":6.05},{"t":1994.4,"v":6.1},{"t":1994.7,"v":5.95},{"t":1995.2,"v":5.95},{"t":1995.45,"v":5.7},{"t":1995.7,"v":5.47},{"t":1996.0,"v":5.42},{"t":1996.3,"v":5.39},{"t":1996.65,"v":5.5},{"t":1997.0,"v":5.47},{"t":1997.3,"v":5.27},{"t":1997.55,"v":5.4},{"t":1997.8,"v":5.59},{"t":1998.1,"v":5.8},{"t":1998.4,"v":5.95},{"t":1998.75,"v":5.88},{"t":1999.1,"v":5.79},{"t":1999.5,"v":5.82},{"t":1999.9,"v":5.75},{"t":2000.25,"v":5.8},{"t":2000.6,"v":5.87},{"t":2000.9,"v":5.84},{"t":2001.2,"v":5.95},{"t":2001.55,"v":5.85},{"t":2001.9,"v":5.67},{"t":2002.25,"v":5.6},{"t":2002.6,"v":5.47},{"t":2002.95,"v":5.4},{"t":2003.3,"v":5.35},{"t":2003.55,"v":5.4},{"t":2003.8,"v":5.47},{"t":2004.05,"v":5.5},{"t":2004.3,"v":5.59},{"t":2004.55,"v":5.45},{"t":2004.8,"v":5.35},{"t":2005.1,"v":5.3},{"t":2005.4,"v":5.27},{"t":2005.7,"v":5.4},{"t":2006.0,"v":5.59},{"t":2006.35,"v":5.8},{"t":2006.7,"v":5.99},{"t":2007.0,"v":5.85},{"t":2007.3,"v":5.79},{"t":2007.65,"v":5.75},{"t":2008.0,"v":5.67},{"t":2008.25,"v":5.5},{"t":2008.5,"v":5.35},{"t":2008.75,"v":5.45},{"t":2009.0,"v":5.55},{"t":2009.35,"v":5.5},{"t":2009.7,"v":5.47},{"t":2010.05,"v":5.3},{"t":2010.4,"v":5.15},{"t":2010.65,"v":5.2},{"t":2010.9,"v":5.27},{"t":2011.2,"v":5.4},{"t":2011.5,"v":5.55},{"t":2011.9,"v":5.52},{"t":2012.3,"v":5.59},{"t":2012.65,"v":5.62},{"t":2013.0,"v":5.67},{"t":2013.35,"v":5.75},{"t":2013.7,"v":5.87},{"t":2014.05,"v":5.7},{"t":2014.4,"v":5.59},{"t":2014.65,"v":5.5},{"t":2014.9,"v":5.47},{"t":2015.25,"v":5.8},{"t":2015.6,"v":6.07},{"t":2015.85,"v":5.95},{"t":2016.1,"v":5.79},{"t":2016.4,"v":5.55},{"t":2016.7,"v":5.35},{"t":2016.95,"v":5.33},{"t":2017.2,"v":5.31},{"t":2017.5,"v":5.67},{"t":2017.85,"v":5.62},{"t":2018.2,"v":5.59},{"t":2018.55,"v":5.64},{"t":2018.9,"v":5.67},{"t":2019.2,"v":5.85},{"t":2019.5,"v":6.07},{"t":2019.75,"v":6.18},{"t":2020.0,"v":6.27},{"t":2020.25,"v":6.15},{"t":2020.5,"v":5.95},{"t":2020.9,"v":5.7},{"t":2021.1,"v":5.55},{"t":2021.3,"v":5.47}
],
"m17532": [
{"t":1991.9,"v":5.58},{"t":1992.3,"v":5.62},{"t":1992.9,"v":5.74},{"t":1993.2,"v":5.8},{"t":1993.57,"v":5.86},{"t":1993.9,"v":5.95},{"t":1994.27,"v":6.06},{"t":1994.6,"v":5.98},{"t":1994.97,"v":5.86},{"t":1995.3,"v":5.76},{"t":1995.66,"v":5.66},{"t":1996.0,"v":5.5},{"t":1996.36,"v":5.38},{"t":1996.7,"v":5.45},{"t":1997.06,"v":5.54},{"t":1997.4,"v":5.64},{"t":1997.76,"v":5.74},{"t":1998.3,"v":5.86},{"t":1998.8,"v":5.94},{"t":1999.3,"v":5.96},{"t":1999.85,"v":5.98},{"t":2000.4,"v":5.95},{"t":2000.9,"v":5.94},{"t":2001.25,"v":5.9},{"t":2001.6,"v":5.86},{"t":2001.95,"v":5.76},{"t":2002.3,"v":5.66},{"t":2002.8,"v":5.56},{"t":2003.3,"v":5.46},{"t":2004.0,"v":5.42},{"t":2004.7,"v":5.38},{"t":2005.25,"v":5.48},{"t":2005.8,"v":5.58},{"t":2006.3,"v":5.66},{"t":2006.8,"v":5.74},{"t":2007.15,"v":5.8},{"t":2007.5,"v":5.86},{"t":2007.85,"v":5.76},{"t":2008.2,"v":5.66},{"t":2008.9,"v":5.52},{"t":2009.6,"v":5.38},{"t":2010.3,"v":5.42},{"t":2011.0,"v":5.46},{"t":2011.7,"v":5.52},{"t":2012.4,"v":5.58},{"t":2013.1,"v":5.66},{"t":2013.8,"v":5.74},{"t":2014.5,"v":5.7},{"t":2015.2,"v":5.66},{"t":2015.7,"v":5.7},{"t":2016.2,"v":5.74},{"t":2016.75,"v":5.6},{"t":2017.3,"v":5.46},{"t":2017.65,"v":5.42},{"t":2018.0,"v":5.38},{"t":2018.5,"v":5.52},{"t":2019.0,"v":5.66},{"t":2019.45,"v":5.8},{"t":2019.9,"v":5.94},{"t":2020.4,"v":5.9},{"t":2020.9,"v":5.86}
],
"m43830": [
{"t":1993.33,"v":5.78},{"t":1994.0,"v":5.77},{"t":1994.7,"v":5.75},{"t":1995.94,"v":5.74},{"t":1997.2,"v":5.76},{"t":1998.4,"v":5.78},{"t":1999.3,"v":5.81},{"t":2000.1,"v":5.83},{"t":2001.0,"v":5.81},{"t":2001.9,"v":5.78},{"t":2002.7,"v":5.72},{"t":2003.5,"v":5.66},{"t":2004.7,"v":5.66},{"t":2005.8,"v":5.68},{"t":2006.9,"v":5.7},{"t":2008.2,"v":5.7},{"t":2009.5,"v":5.69},{"t":2010.8,"v":5.66},{"t":2012.2,"v":5.68},{"t":2013.3,"v":5.72},{"t":2014.5,"v":5.78},{"t":2015.8,"v":5.72},{"t":2017.2,"v":5.66},{"t":2018.3,"v":5.72},{"t":2019.5,"v":5.74}
]
},
"concat": [
{
 "width": 324, "height": 210,
 "layer": [
  {"data": {"name": "raw"}, "mark": {"type": "area", "color": "#00D0BF", "stroke": "#00D0BF", "strokeWidth": 1.5, "strokeJoin": "miter", "clip": true},
   "encoding": {
    "x": {"field": "t", "type": "quantitative", "scale": {"domain": [1989.5, 2023.36], "nice": false, "zero": false}, "axis": {"values": [1992,1996,2000,2004,2008,2012,2016,2020], "format": "d", "title": null, "labelPadding": 8, "labelFlush": false}},
    "y": {"field": "h", "type": "quantitative", "scale": {"domain": [-1.15, 24.15], "nice": false, "zero": false}, "axis": {"values": [0,5,10,15,20], "title": null, "labelPadding": 10}},
    "y2": {"field": "l"}}},
  {"data": {"name": "m732"}, "mark": {"type": "line", "strokeWidth": 1.6, "clip": true},
   "encoding": {
    "x": {"field": "t", "type": "quantitative"},
    "y": {"field": "v", "type": "quantitative"},
    "color": {"datum": "moyenne sur 732 heures", "type": "nominal", "scale": {"range": ["#0A917F"]}, "legend": {"title": null, "orient": "none", "legendX": 76.7, "legendY": 6}}}}
 ]
},
{
 "width": 311, "height": 210,
 "layer": [
  {"data": {"name": "raw"}, "mark": {"type": "area", "color": "#00D0BF", "stroke": "#00D0BF", "strokeWidth": 1.5, "strokeJoin": "miter", "clip": true},
   "encoding": {
    "x": {"field": "t", "type": "quantitative", "scale": {"domain": [1989.5, 2022.0], "nice": false, "zero": false}, "axis": {"values": [1992,1996,2000,2004,2008,2012,2016,2020], "format": "d", "title": null, "labelPadding": 8, "labelFlush": false}},
    "y": {"field": "h", "type": "quantitative", "scale": {"domain": [-1.15, 24.15], "nice": false, "zero": false}, "axis": {"values": [0,5,10,15,20], "title": null, "labelPadding": 10}},
    "y2": {"field": "l"}}},
  {"data": {"name": "m8766"}, "mark": {"type": "line", "strokeWidth": 1.5, "clip": true},
   "encoding": {
    "x": {"field": "t", "type": "quantitative"},
    "y": {"field": "v", "type": "quantitative"},
    "color": {"datum": "moyenne sur 8766 heures", "type": "nominal", "scale": {"range": ["#0A917F"]}, "legend": {"title": null, "orient": "none", "legendX": 72.6, "legendY": 6}}}}
 ]
},
{
 "width": 324, "height": 210,
 "layer": [
  {"data": {"name": "raw"}, "mark": {"type": "area", "color": "#00D0BF", "stroke": "#00D0BF", "strokeWidth": 1.5, "strokeJoin": "miter", "clip": true},
   "encoding": {
    "x": {"field": "t", "type": "quantitative", "scale": {"domain": [1989.5, 2023.36], "nice": false, "zero": false}, "axis": {"values": [1992,1996,2000,2004,2008,2012,2016,2020], "format": "d", "title": null, "labelPadding": 8, "labelFlush": false}},
    "y": {"field": "h", "type": "quantitative", "scale": {"domain": [-1.15, 24.15], "nice": false, "zero": false}, "axis": {"values": [0,5,10,15,20], "title": null, "labelPadding": 10}},
    "y2": {"field": "l"}}},
  {"data": {"name": "m17532"}, "mark": {"type": "line", "strokeWidth": 1.5, "clip": true},
   "encoding": {
    "x": {"field": "t", "type": "quantitative"},
    "y": {"field": "v", "type": "quantitative"},
    "color": {"datum": "moyenne sur 17532 heures", "type": "nominal", "scale": {"range": ["#0A917F"]}, "legend": {"title": null, "orient": "none", "legendX": 69, "legendY": 5}}}}
 ]
},
{
 "width": 311, "height": 210,
 "layer": [
  {"data": {"name": "raw"}, "mark": {"type": "area", "color": "#00D0BF", "stroke": "#00D0BF", "strokeWidth": 1.5, "strokeJoin": "miter", "clip": true},
   "encoding": {
    "x": {"field": "t", "type": "quantitative", "scale": {"domain": [1989.5, 2022.0], "nice": false, "zero": false}, "axis": {"values": [1992,1996,2000,2004,2008,2012,2016,2020], "format": "d", "title": null, "labelPadding": 8, "labelFlush": false}},
    "y": {"field": "h", "type": "quantitative", "scale": {"domain": [-1.15, 24.15], "nice": false, "zero": false}, "axis": {"values": [0,5,10,15,20], "title": null, "labelPadding": 10}},
    "y2": {"field": "l"}}},
  {"data": {"name": "m43830"}, "mark": {"type": "line", "strokeWidth": 1.5, "clip": true},
   "encoding": {
    "x": {"field": "t", "type": "quantitative"},
    "y": {"field": "v", "type": "quantitative"},
    "color": {"datum": "moyenne sur 43830 heures", "type": "nominal", "scale": {"range": ["#0A917F"]}, "legend": {"title": null, "orient": "none", "legendX": 69.3, "legendY": 5}}}}
 ]
}
]
}
